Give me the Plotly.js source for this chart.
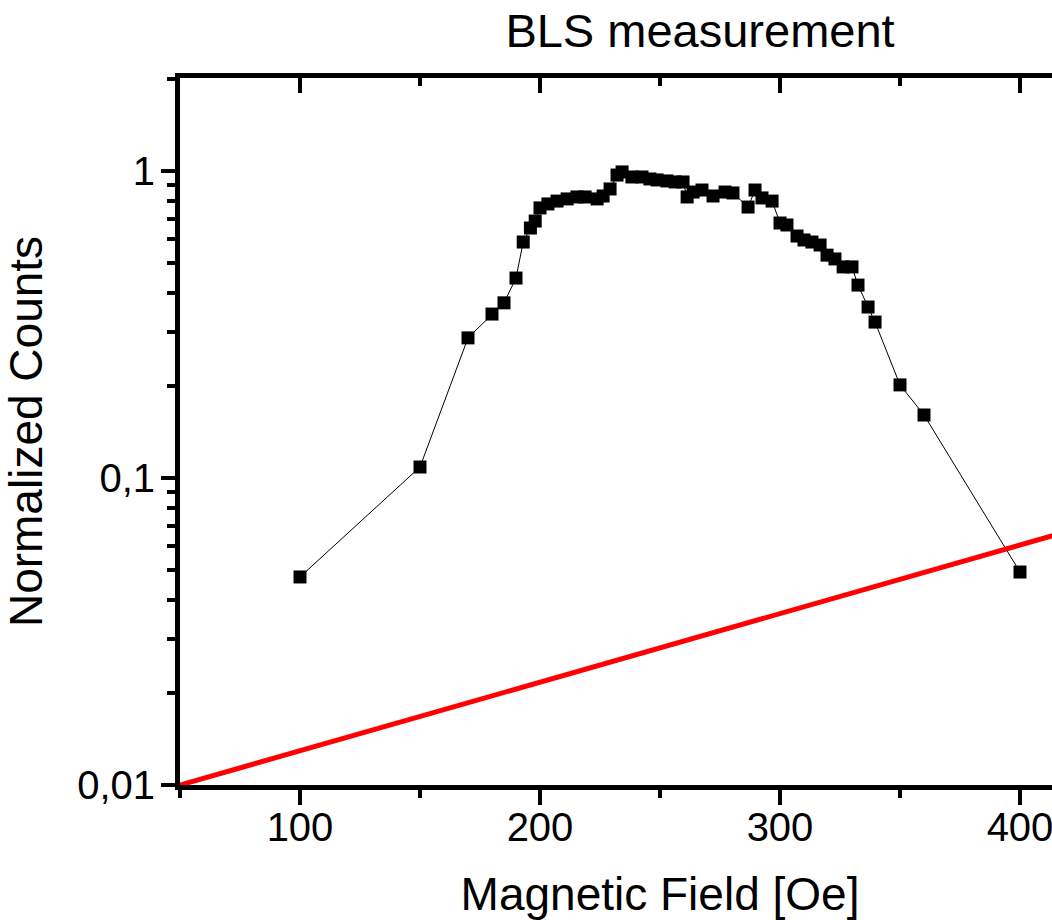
<!DOCTYPE html>
<html>
<head>
<meta charset="utf-8">
<script src="https://cdn.plot.ly/plotly-3.0.1.min.js"></script>
<style>
html, body { margin: 0; padding: 0; overflow: hidden; background: #fff; }
#chart { width: 1140px; height: 920px; }
</style>
</head>
<body>
<div id="chart"></div>
<script>
// Measured BLS counts (normalized) vs magnetic field [Oe]
const fieldOe = [100, 150, 170, 180, 185, 190, 193, 196, 198, 200,
  203.3, 207.1, 211.3, 215.4, 218.8, 223.8, 226.3, 229.2, 232.1, 234.2,
  238.3, 242.5, 245.8, 248.8, 252.9, 256.3, 259.6, 261.3, 263.8, 267.5,
  272.1, 277.1, 280.4, 286.7, 289.6, 292.5, 296.7, 300, 302.9, 307.1,
  310, 313.3, 316.7, 319.6, 322.9, 326.3, 330, 332.5, 336.7, 339.6,
  350, 360, 400];
const counts = [0.0476, 0.1086, 0.286, 0.342, 0.372, 0.448, 0.587, 0.652, 0.687, 0.758,
  0.781, 0.798, 0.811, 0.823, 0.823, 0.811, 0.829, 0.874, 0.970, 0.993,
  0.956, 0.956, 0.942, 0.935, 0.928, 0.921, 0.921, 0.823, 0.854, 0.867,
  0.829, 0.854, 0.848, 0.763, 0.867, 0.817, 0.798, 0.677, 0.667, 0.614,
  0.596, 0.587, 0.574, 0.532, 0.517, 0.487, 0.487, 0.425, 0.3605, 0.322,
  0.201, 0.1604, 0.0494];

// Red reference line (straight on the log scale)
const refX = [50, 450];
const refY = [0.01, 0.0782];

// Tick labels
const yTickVals = [0.01, 0.1, 1];
const yTickText = ['0,01', '0,1', '1'];
const yMinorVals = [0.02, 0.03, 0.04, 0.05, 0.06, 0.07, 0.08, 0.09,
  0.2, 0.3, 0.4, 0.5, 0.6, 0.7, 0.8, 0.9, 2];

const FONT = 'Liberation Sans, Arial, sans-serif';

const traces = [
  {
    x: refX, y: refY, type: 'scatter', mode: 'lines',
    xaxis: 'x2', yaxis: 'y',
    line: { color: '#ff0000', width: 5 },
    hoverinfo: 'skip', showlegend: false
  },
  {
    x: fieldOe, y: counts, type: 'scatter', mode: 'lines+markers',
    line: { color: '#000000', width: 1 },
    marker: { symbol: 'square', size: 13, color: '#000000' },
    showlegend: false, cliponaxis: false
  }
];

const layout = {
  width: 1140, height: 920,
  margin: { l: 180, r: 0, t: 78, b: 135, pad: 0 },
  paper_bgcolor: '#ffffff', plot_bgcolor: '#ffffff',
  font: { family: FONT, color: '#000000', size: 40 },
  showlegend: false,
  title: {
    text: 'BLS measurement',
    font: { family: FONT, size: 47, color: '#000000' },
    xref: 'container', x: 700 / 1140, xanchor: 'center',
    yref: 'container', y: 1 - 31 / 920, yanchor: 'middle'
  },
  xaxis: {
    range: [50, 450], type: 'linear',
    showgrid: false, zeroline: false,
    showline: true, linecolor: '#000000', linewidth: 5, mirror: true,
    ticks: 'outside', ticklen: 15, tickwidth: 4, tickcolor: '#000000',
    tickmode: 'linear', tick0: 0, dtick: 100,
    tickfont: { family: FONT, size: 40, color: '#000000' },
    ticklabelstandoff: -12,
    minor: { ticks: 'outside', dtick: 50, tick0: 0, ticklen: 8, tickwidth: 4, tickcolor: '#000000', showgrid: false },
    title: { text: 'Magnetic Field [Oe]', font: { family: FONT, size: 46, color: '#000000' }, standoff: 48 },
    automargin: false
  },
  xaxis2: {
    range: [50, 450], type: 'linear', overlaying: 'x', side: 'top',
    showgrid: false, zeroline: false, showline: false,
    ticks: 'inside', ticklen: 15, tickwidth: 4, tickcolor: '#000000',
    tickmode: 'linear', tick0: 0, dtick: 100, showticklabels: false,
    minor: { ticks: 'inside', dtick: 50, tick0: 0, ticklen: 8, tickwidth: 4, tickcolor: '#000000', showgrid: false },
    automargin: false
  },
  yaxis: {
    type: 'log', range: [-2, 0.3029],
    showgrid: false, zeroline: false,
    showline: true, linecolor: '#000000', linewidth: 5, mirror: true,
    ticks: 'outside', ticklen: 14, tickwidth: 4, tickcolor: '#000000',
    tickmode: 'array', tickvals: yTickVals, ticktext: yTickText,
    tickfont: { family: FONT, size: 40, color: '#000000' },
    ticklabelstandoff: -2,
    minor: { ticks: 'outside', tickmode: 'array', tickvals: yMinorVals, ticklen: 8, tickwidth: 4, tickcolor: '#000000', showgrid: false },
    title: { text: 'Normalized Counts', font: { family: FONT, size: 46, color: '#000000' }, standoff: 27 },
    automargin: false
  }
};

Plotly.newPlot('chart', traces, layout, { staticPlot: true, displayModeBar: false });
</script>
</body>
</html>
